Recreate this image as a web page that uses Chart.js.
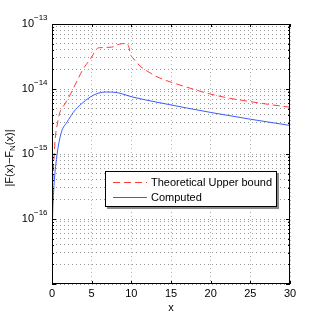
<!DOCTYPE html>
<html>
<head>
<meta charset="utf-8">
<script src="https://cdn.jsdelivr.net/npm/chart.js@4.4.0/dist/chart.umd.min.js"></script>
<style>
  html, body { margin: 0; padding: 0; background: #fff; }
  canvas { display: block; }
</style>
</head>
<body>
<canvas id="errChart" width="319" height="320"></canvas>
<script>
// data
const seriesNames = ['Theoretical Upper bound', 'Computed'];

const boundX = [0, 0.1, 0.2, 0.4, 0.7, 1.0, 1.5, 2.0, 2.9, 3.9, 5.0, 5.6, 5.9, 7.5, 8.5, 9.4, 9.7, 9.9, 10.2, 11.1, 12.4, 13.6, 15.3, 17.4, 19.9, 22.4, 25, 27.5, 30];
const boundY = [1.15e-16, 3.5e-16, 6.5e-16, 1.7e-15, 3.0e-15, 4.4e-15, 5.6e-15, 7.0e-15, 1.15e-14, 2.0e-14, 3.1e-14, 4.1e-14, 4.3e-14, 4.4e-14, 4.9e-14, 5.0e-14, 4.4e-14, 3.4e-14, 3.0e-14, 2.26e-14, 1.76e-14, 1.47e-14, 1.24e-14, 1.03e-14, 8.4e-15, 7.2e-15, 6.4e-15, 5.75e-15, 5.25e-15];

const computedX = [0, 0.1, 0.3, 0.6, 0.8, 1.2, 1.9, 2.7, 3.7, 4.8, 5.8, 6.9, 8.2, 10.2, 13.6, 17, 20, 25, 30];
const computedY = [5.0e-17, 1.4e-16, 4.0e-16, 9.0e-16, 1.33e-15, 2.2e-15, 3.1e-15, 4.4e-15, 5.9e-15, 7.5e-15, 8.6e-15, 9.0e-15, 8.8e-15, 7.5e-15, 6.14e-15, 5.1e-15, 4.36e-15, 3.43e-15, 2.75e-15];

const xTickValues = [0, 5, 10, 15, 20, 25, 30];
const yDecades = [-17, -16, -15, -14, -13];
const yLabelExponents = [-13, -14, -15, -16];

const fontFamily = '"Liberation Sans", Arial, Helvetica, sans-serif';

function toPoints(xs, ys) {
    return xs.map((x, i) => ({ x: x, y: ys[i] }));
}

// all grid values on the log axis: 1..9 x each decade
const yGridValues = [];
yDecades.forEach(function(d, i) {
    if (i === yDecades.length - 1) { yGridValues.push(Math.pow(10, d)); return; }
    for (let m = 1; m <= 9; m++) yGridValues.push(m * Math.pow(10, d));
});

const decorPlugin = {
    id: 'decor',
    afterDraw(chart) {
        const ctx = chart.ctx;
        const area = chart.chartArea;
        const xs = chart.scales.x;
        const ys = chart.scales.y;
        ctx.save();

        // legend box
        const lx = 105, ly = 171, lw = 172, lh = 36;
        ctx.fillStyle = '#8a8a8a';
        ctx.fillRect(lx + 2, ly + 2, lw, lh);
        ctx.fillStyle = '#fff';
        ctx.fillRect(lx, ly, lw, lh);
        ctx.strokeStyle = '#000';
        ctx.lineWidth = 1;
        ctx.strokeRect(lx + 0.5, ly + 0.5, lw - 1, lh - 1);
        chart.data.datasets.forEach(function(ds, i) {
            const yy = ly + 11.5 + i * 15;
            ctx.beginPath();
            ctx.strokeStyle = ds.borderColor;
            ctx.setLineDash(ds.borderDash || []);
            ctx.moveTo(lx + 8, yy);
            ctx.lineTo(lx + 42, yy);
            ctx.stroke();
            ctx.setLineDash([]);
            ctx.fillStyle = '#000';
            ctx.font = '11px ' + fontFamily;
            ctx.textAlign = 'left';
            ctx.textBaseline = 'middle';
            ctx.fillText(ds.label, lx + 46, yy);
        });

        // axes box
        ctx.strokeStyle = '#000';
        ctx.lineWidth = 1;
        ctx.strokeRect(Math.round(area.left) + 0.5, Math.round(area.top) + 0.5,
                       Math.round(area.right - area.left) - 1, Math.round(area.bottom - area.top) - 1);

        // inward ticks
        ctx.beginPath();
        xTickValues.forEach(function(v) {
            const px = Math.round(xs.getPixelForValue(v)) + 0.5;
            ctx.moveTo(px, area.bottom); ctx.lineTo(px, area.bottom - 3);
            ctx.moveTo(px, area.top); ctx.lineTo(px, area.top + 3);
        });
        yGridValues.forEach(function(v) {
            const major = Math.abs(Math.log10(v) - Math.round(Math.log10(v))) < 1e-9;
            const len = major ? 4 : 2;
            const py = Math.round(ys.getPixelForValue(v)) + 0.5;
            ctx.moveTo(area.left, py); ctx.lineTo(area.left + len, py);
            ctx.moveTo(area.right, py); ctx.lineTo(area.right - len, py);
        });
        ctx.stroke();

        // x tick labels
        ctx.fillStyle = '#000';
        ctx.font = '11px ' + fontFamily;
        ctx.textAlign = 'center';
        ctx.textBaseline = 'middle';
        xTickValues.forEach(function(v) {
            ctx.fillText(String(v), xs.getPixelForValue(v), area.bottom + 10);
        });
        ctx.fillText('x', (area.left + area.right) / 2, area.bottom + 24);

        // y tick labels 10^n
        yLabelExponents.forEach(function(e) {
            const py = ys.getPixelForValue(Math.pow(10, e));
            ctx.font = '11px ' + fontFamily;
            ctx.textAlign = 'right';
            ctx.textBaseline = 'middle';
            ctx.fillText('10', 34, py);
            ctx.font = '8px ' + fontFamily;
            ctx.textAlign = 'left';
            ctx.fillText('\u2212' + Math.abs(e), 34, py - 6);
        });

        // y title |F(x)-F_N(x)|
        ctx.translate(10, (area.top + area.bottom) / 2 + 4);
        ctx.rotate(-Math.PI / 2);
        const parts = [['|F(x)\u2212F', 11, 0], ['N', 8, 3], ['(x)|', 11, 0]];
        let total = 0;
        parts.forEach(function(p) { ctx.font = p[1] + 'px ' + fontFamily; total += ctx.measureText(p[0]).width; });
        let cx = -total / 2;
        ctx.textAlign = 'left';
        ctx.textBaseline = 'middle';
        parts.forEach(function(p) {
            ctx.font = p[1] + 'px ' + fontFamily;
            ctx.fillText(p[0], cx, p[2]);
            cx += ctx.measureText(p[0]).width;
        });
        ctx.restore();
    }
};

const ctx = document.getElementById('errChart').getContext('2d');
const errChart = new Chart(ctx, {
    type: 'line',
    data: {
        datasets: [{
            label: seriesNames[0],
            data: toPoints(boundX, boundY),
            borderColor: '#ff3b3b',
            borderWidth: 1,
            borderDash: [7, 4],
            pointRadius: 0,
            cubicInterpolationMode: 'monotone',
            fill: false
        }, {
            label: seriesNames[1],
            data: toPoints(computedX, computedY),
            borderColor: '#3a5cff',
            borderWidth: 1,
            pointRadius: 0,
            cubicInterpolationMode: 'monotone',
            fill: false
        }]
    },
    options: {
        responsive: false,
        animation: false,
        devicePixelRatio: 1,
        layout: { padding: { left: 52, top: 24, right: 29, bottom: 0 } },
        plugins: { legend: { display: false }, tooltip: { enabled: false } },
        scales: {
            x: {
                type: 'linear',
                min: 0,
                max: 30,
                afterBuildTicks: function(scale) {
                    scale.ticks = xTickValues.map(v => ({ value: v }));
                },
                afterFit: function(scale) { scale.height = 36; },
                ticks: { display: false },
                grid: { color: 'rgba(0,0,0,0.3)', drawTicks: false },
                border: { display: false, dash: [1, 3] }
            },
            y: {
                type: 'logarithmic',
                min: 1e-17,
                max: 1e-13,
                afterBuildTicks: function(scale) {
                    scale.ticks = yGridValues.map(v => ({ value: v }));
                },
                afterFit: function(scale) { scale.width = 0; },
                ticks: { display: false },
                grid: { color: 'rgba(0,0,0,0.4)', drawTicks: false },
                border: { display: false, dash: [1, 3] }
            }
        }
    },
    plugins: [decorPlugin]
});
</script>
</body>
</html>
